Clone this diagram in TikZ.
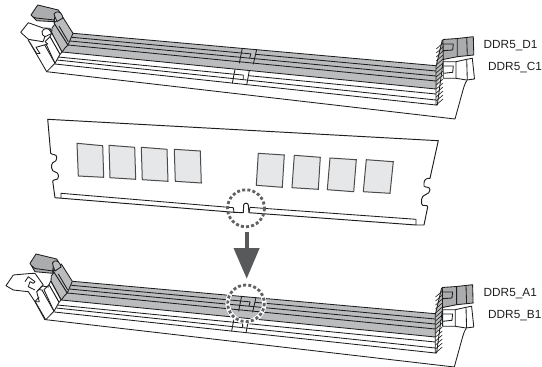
\documentclass[tikz,border=0pt]{standalone}
\usepackage{fontspec}
\setmainfont{Liberation Sans}
\definecolor{railgray}{HTML}{BBBCBE}
\definecolor{latchgray}{HTML}{ABACAE}
\definecolor{chipgray}{HTML}{E6E7E8}
\definecolor{ink}{HTML}{1E1E1E}
\definecolor{ringgray}{HTML}{606163}
\definecolor{arrowgray}{HTML}{58595B}
\tikzset{
  ln/.style={draw=ink,line width=0.85pt,line join=round},
  thin ln/.style={draw=ink,line width=0.6pt},
  chip/.style={draw=ink!80,line width=1pt,fill=chipgray},
  grayfill/.style={ln,fill=latchgray},
  whitefill/.style={ln,fill=white},
  slotlabel/.style={font=\fontsize{11.8}{13}\selectfont,anchor=west,inner sep=0pt,text=ink},
  ring/.style={draw=ringgray,line width=2.8pt,dash pattern=on 3pt off 2.2pt},
}
\newcommand{\slotbody}{%
  % grey rails
  \fill[railgray] (73,33.3)--(436,65.7)--(436,89)--(62,52)--(68,45)--cycle;
  % rails
  \draw[ln] (73,33.3)--(436,65.7);
  \draw[ln] (72,37.3)--(251,53.9) (255.5,54.3)--(436,71);
  \draw[ln] (70,41)--(436,76);
  \draw[ln] (68,45)--(436,81);
  \draw[ln] (62,52)--(436,89);
  \draw[ln] (58,57)--(243.3,75.1) (248.5,75.65)--(436,94);
  \draw[ln] (57,60)--(436,100);
  \draw[ln] (55,64)--(436,105);
  % base outline
  \draw[ln] (46.7,71.7)--(455,119)--(463,90) .. controls (464.5,85) and (465.5,82) .. (467,80.5);
  % centre key of the slot
  \draw[ln] (242.3,48.3)--(239.3,63.3) (256.7,49.3)--(253.3,64.3) (250.7,54)--(249.7,58.3);
  \draw[ln] (235,69.3)--(232.3,83.3) (249.3,70.7)--(246.7,85) (243.3,75)--(243.3,79);
  % right hatched edge
  \fill[railgray] (442.3,40)--(436,66.7)--(436,89)--(440,78)--(443.3,60)--(443.3,40)--cycle;
  \draw[ln] (442.3,40)--(436,66.7)--(436,105)--(437.3,105)--(443.3,60)--(443.3,40);
  \foreach \yy in {46,50,...,102}{
    \draw[thin ln] (436.2,{\yy+3}) -- (443,{\yy-3});
  }
  % right upper (grey) latch
  \draw[grayfill] (443,39.5)--(457.3,38.5)--(473.3,36.7)--(473.8,55)--(457.3,56.7)--(443.3,59.5)--cycle;
  \draw[ln] (457.3,38.5)--(457.3,56.7) (466.7,37.5)--(467.3,55.5);
  \draw[ln] (443,44)--(453.3,44)--(452.7,50)--(443,50.7);
  % right lower (white) latch
  \draw[whitefill] (443.3,61.7)--(456,61.7)--(466.7,59.3)--(472.3,58.3)--(474.5,79)--(466.7,80)--(456,78.3)--(443.3,78.3)--cycle;
  \draw[ln] (456,61.7)--(456,78.3) (466.7,59.3)--(467.3,80);
  \draw[ln] (443.5,66)--(453.3,66)--(452.7,72.3)--(443.5,73.3);
  % left grey columns
  \draw[grayfill,fill=railgray] (52,28)--(55,24)--(68,45)--(65,48)--(62,52)--(51.7,33)--cycle;
  \draw[grayfill,fill=railgray] (62,16)--(73,33.3)--(68,45)--(54,23)--cycle;
  \draw[ln] (59,26)--(68.3,41.7);
}
\newcommand{\leftlower}{%
  \draw[whitefill] (50,36.7)--(51.7,33)--(62,52)--(60,54.3)--cycle;
  \draw[whitefill] (45,41.7)--(50,36.7)--(60,54.3)--(55,63.3)--cycle;
  \draw[whitefill] (28.3,40)--(43,42)--(55,63.3)--(46.7,71.7)--cycle;
}
\begin{document}
\begin{tikzpicture}[x=1pt,y=-1pt]
\useasboundingbox (0,0) rectangle (542,367);
% ---- top slot
\slotbody
\leftlower
\draw[whitefill] (28.3,40)--(36.7,53.5)--(40,53.5)--(36,47.3)--(47.7,44)--(45,41.5);
\draw[whitefill] (20.7,32.3)--(28.3,22.7)--(43,28)--(50,28.3)--(52,33.3)--(45,36.7)--(43,41.7)--(28.3,39.3)--cycle;
\draw[ln] (42,31.5) .. controls (44,27.5) and (49,27) .. (51.5,33) (42,31.5) .. controls (41.5,34) and (43,36) .. (45,36.7);
\draw[grayfill] (37.7,5)--(58.3,10)--(61.7,15)--(55,16.7)--(54.3,21.7)--(36.7,20.7)--(31,15)--cycle;
\draw[ln] (54,22)--(55,16.7) (33,17)--(36,18)--(54.5,20);
\draw[grayfill,fill=railgray] (54,14) .. controls (56,11) and (60,11) .. (62,15)--(63,18)--(57,21.5)--(55,17)--cycle;
% ---- bottom slot
\begin{scope}[shift={(-0.7,248)}]
  \slotbody
\end{scope}
\begin{scope}[shift={(-1,248)}]
  \leftlower
\end{scope}
% open white latch
\draw[whitefill] (6,285.7)--(13.3,275)--(30,273.5)--(35,273.3)--(43.3,285)--(36.7,291.7)--(39.3,301.7)--(35,301.7)--(28.3,291.7)--(13.3,290)--cycle;
\draw[ln] (25,281.7)--(28.3,276.7)--(35,281.7)--(33.3,283.3)--(30,281.7)--(28.3,286.7)--(35,290);
\draw[ln] (35,301.7)--(45,320);
\draw[ln] (36.7,291.7)--(42,286)--(49,287) (35,301.7)--(39,297);
\draw[grayfill] (36,254)--(56.7,259)--(60,265)--(53.3,266.7)--(52.7,273.3)--(35,271.7)--(30,263.3)--cycle;
\draw[ln] (53,273)--(53.3,266.7) (32,266)--(35,268.5)--(53,271);
\draw[grayfill,fill=railgray] (52.5,263) .. controls (54,260) and (58,260) .. (60,264)--(61,267)--(55,271)--(53.3,266.7)--cycle;
% ---- module
\draw[ln,fill=white,line width=0.95pt] (47.7,119.3)--(438.3,140.7)--(430,178.3)
  .. controls (426,178) and (424,180) .. (424,183.3)--(424,186)
  .. controls (425,188) and (430,186) .. (430,190)
  .. controls (430,195) and (421.7,194) .. (421.7,199)--(421.7,204)
  .. controls (422,207) and (428,204) .. (427.7,207)--(424,225)
  --(416,225)--(249,212.7)--(248.3,205)
  .. controls (248,202.6) and (244,202.6) .. (243.7,205)--(243.3,212.7)--(234,212.3)--(55,197.7)
  --(52.7,181)
  .. controls (54,178.5) and (58.3,181) .. (58.3,177)--(58.3,175)
  .. controls (58.3,171) and (51.7,173) .. (51.7,168)--(51.7,165)
  .. controls (51.7,161) and (56.7,163) .. (56.7,158)--(56.7,157)
  .. controls (56.7,154) and (52,155) .. (50.7,153.3)--cycle;
\draw[ln] (61,198.3)--(61,193.3)--(233.3,207.7)--(234,212.3);
\draw[ln] (250,207.3)--(249,212.7) (250,207.3)--(263,208.3)--(416,219.3)--(416,225);
\foreach \pts [count=\i] in {
  {(77,143.3)--(102.7,145.7)--(103.7,177.3)--(78.3,176)},
  {(109,145.3)--(134.7,147.3)--(135.7,179.3)--(110,177.7)},
  {(141.3,147.3)--(167,149.3)--(168,181.3)--(142.3,179.7)},
  {(174.3,149.3)--(200.3,151)--(201.3,183)--(175.3,181.3)},
  {(258.3,153.3)--(284.3,155)--(282.3,187.3)--(256.3,185.3)},
  {(294.3,155.3)--(320.3,157.3)--(318.3,189.3)--(292,187.7)},
  {(330,158)--(356.3,159.7)--(353.7,191.7)--(327.3,189.7)},
  {(366.3,159.7)--(393.3,161.7)--(390,193.3)--(363.3,191.7)}}{
  \draw[chip] \pts--cycle;
}
% ---- rings and arrow
\draw[ring] (246,208.3) circle (18.5);
\draw[draw=white,line width=4.5pt] (246,303.3) circle (18.3);
\draw[ring] (246,303.3) circle (18.3);
\coordinate (arrowstart) at (246.7,231.5);
\coordinate (arrowshoulder) at (246.7,248.5);
\coordinate (arrowtip) at (246.7,278.5);
\draw[draw=arrowgray,line width=4pt] (arrowstart)--(arrowshoulder);
\fill[arrowgray] (233.5,248)--(259.7,248)--(arrowtip)--cycle;
% ---- labels
\node[slotlabel] (d1) at (483.5,46) {DDR5\_D1};
\node[slotlabel] (c1) at (488,67.5) {DDR5\_C1};
\node[slotlabel] (a1) at (483.5,294) {DDR5\_A1};
\node[slotlabel] (b1) at (488,316) {DDR5\_B1};
\end{tikzpicture}
\end{document}
